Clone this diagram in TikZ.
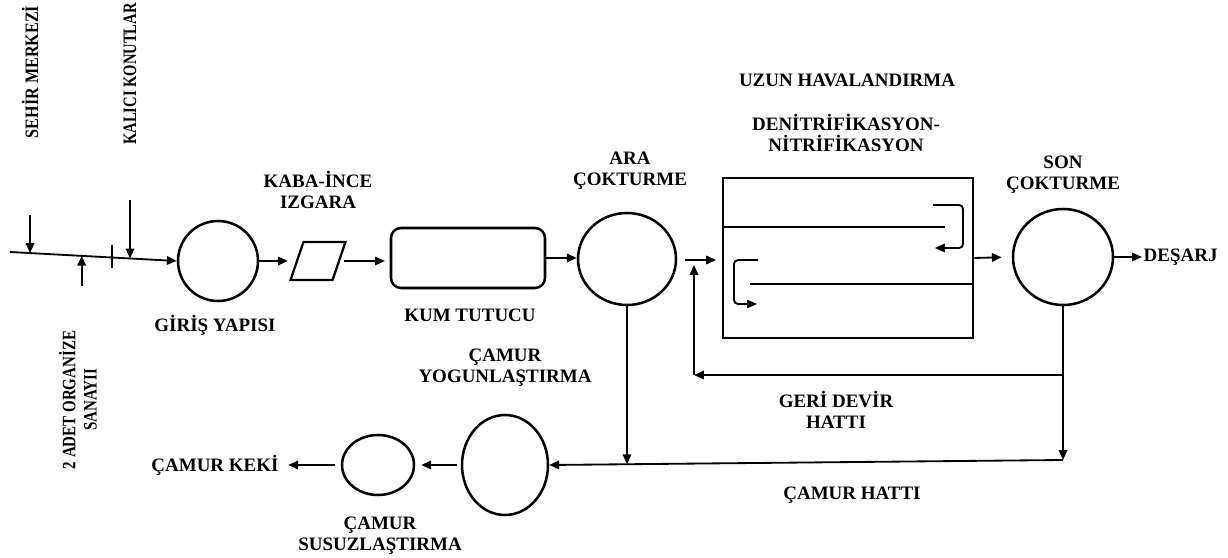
\documentclass[tikz,border=0pt]{standalone}
\usepackage{fontspec}
\setmainfont{Liberation Serif}
\usetikzlibrary{arrows.meta,positioning,shapes.geometric,calc}

\begin{document}
\begin{tikzpicture}[x=0.25mm,y=-0.25mm,font=\bfseries\fontsize{13.5}{15}\selectfont,
    hat/.style={line width=1.3pt},
    ok/.style={hat,-{Triangle[length=7pt,width=6pt]}},
    tank/.style={draw,ellipse,line width=1.8pt,inner sep=0pt},
    yazi/.style={align=center,inner sep=1pt},
    dik/.style={yazi,rotate=90}]
  \useasboundingbox (0,0) rectangle (1228,558);
  \node[tank,minimum width=20mm,minimum height=20mm] (giris) at (218,261) {};
  \node[draw,line width=1.6pt,xslant=0.34,minimum width=10.5mm,minimum height=9.5mm,inner sep=0pt] (izgara) at (318,261) {};
  \node[draw,line width=1.8pt,rounded corners=2.5mm,minimum width=38.5mm,minimum height=15mm] (kum) at (468,258) {};
  \node[tank,minimum width=24.5mm,minimum height=23mm] (ara) at (627,259) {};
  \node[draw,line width=1.8pt,minimum width=62.5mm,minimum height=40mm] (havuz) at (848,258) {};
  \node[tank,minimum width=25mm,minimum height=24mm] (son) at (1063,257) {};
  \node[anchor=west,inner sep=1pt] (desarj) at (1142,257) {DEŞARJ};
  \node[tank,minimum width=21.5mm,minimum height=25mm] (yogun) at (505,465) {};
  \node[tank,minimum width=18mm,minimum height=15mm] (susuz) at (378,465) {};
  \node[yazi] (keki) at (215,465) {ÇAMUR KEKİ};

  \node[dik,xscale=0.85] (sehir) at (30,72) {SEHİR MERKEZİ};
  \node[dik,xscale=0.77] (konut) at (130,74) {KALICI KONUTLAR};
  \node[dik,xscale=0.79] (osb) at (78,400) {2 ADET ORGANİZE\\SANAYII};
  \node[yazi] at (215,325) {GİRİŞ YAPISI};
  \node[yazi] at (318,190) {KABA-İNCE\\IZGARA};
  \node[yazi] at (470,315) {KUM TUTUCU};
  \node[yazi] at (630,171) {ARA\\ÇOKTURME};
  \node[yazi] at (847,80) {UZUN HAVALANDIRMA};
  \node[yazi] at (846,133) {DENİTRİFİKASYON-\\NİTRİFİKASYON};
  \node[yazi] at (1063,175) {SON\\ÇOKTURME};
  \node[yazi] at (836,410) {GERİ DEVİR\\HATTI};
  \node[yazi] at (852,495) {ÇAMUR HATTI};
  \node[yazi] at (505,368) {ÇAMUR\\YOGUNLAŞTIRMA};
  \node[yazi] at (380,536) {ÇAMUR\\SUSUZLAŞTIRMA};

  \coordinate (bas) at (10,252);
  \draw[ok] (bas) -- (giris.west);
  \coordinate (s1) at ($(bas)!0.12!(giris.west)$);
  \coordinate (s2) at ($(bas)!0.43!(giris.west)$);
  \coordinate (s3) at ($(bas)!0.61!(giris.west)$);
  \coordinate (s4) at ($(bas)!0.72!(giris.west)$);
  \draw[ok] (s1 |- 0,215) -- (s1);
  \draw[ok] (s2 |- 0,286) -- (s2);
  \draw[hat] (s3 |- 0,245) -- (s3 |- 0,268);
  \draw[ok] (s4 |- 0,200) -- (s4);

  \draw[ok,shorten >=2mm] (giris.east) -- (izgara.west);
  \draw[ok,shorten <=1mm,shorten >=1.2mm] (izgara.east) -- (izgara.east -| kum.west);
  \draw[ok] (kum.east) -- (kum.east -| ara.west);
  \coordinate (a1) at (685,260);
  \coordinate (a2) at (716,260);
  \draw[ok] (a1) -- (a2);
  \draw[ok,shorten >=2.5mm] (havuz.east) -- (son.west);
  \draw[ok] (son.east) -- (desarj.west);

  \draw[hat] (havuz.west |- 0,227) -- (945,227);
  \draw[hat] (750,284) -- (havuz.east |- 0,284);
  \draw[ok,rounded corners=1mm] (933,205) -- (963,205) -- (963,248) -- (935,248);
  \draw[ok,rounded corners=1mm] (758,260) -- (734,260) -- (734,304) -- (757,304);

  \coordinate (c1) at (son.south |- 0,460);
  \coordinate (d0) at (son.south |- 0,375);
  \coordinate (d1) at (694,375);
  \coordinate (d2) at (694,265);
  \draw[ok] (son.south) -- (c1);
  \draw[ok] (d0) -- (d1);
  \draw[ok] (d1) -- (d2);
  \draw[ok] (c1) -- (yogun.east);
  \coordinate (c2) at ($(c1)!0.847!(yogun.east)$);
  \draw[ok] (ara.south) -- (ara.south |- c2);
  \draw[ok,shorten <=1mm,shorten >=1.5mm] (yogun.west) -- (susuz.east);
  \draw[ok,shorten <=1.5mm,shorten >=2mm] (susuz.west) -- (keki.east);
\end{tikzpicture}
\end{document}
